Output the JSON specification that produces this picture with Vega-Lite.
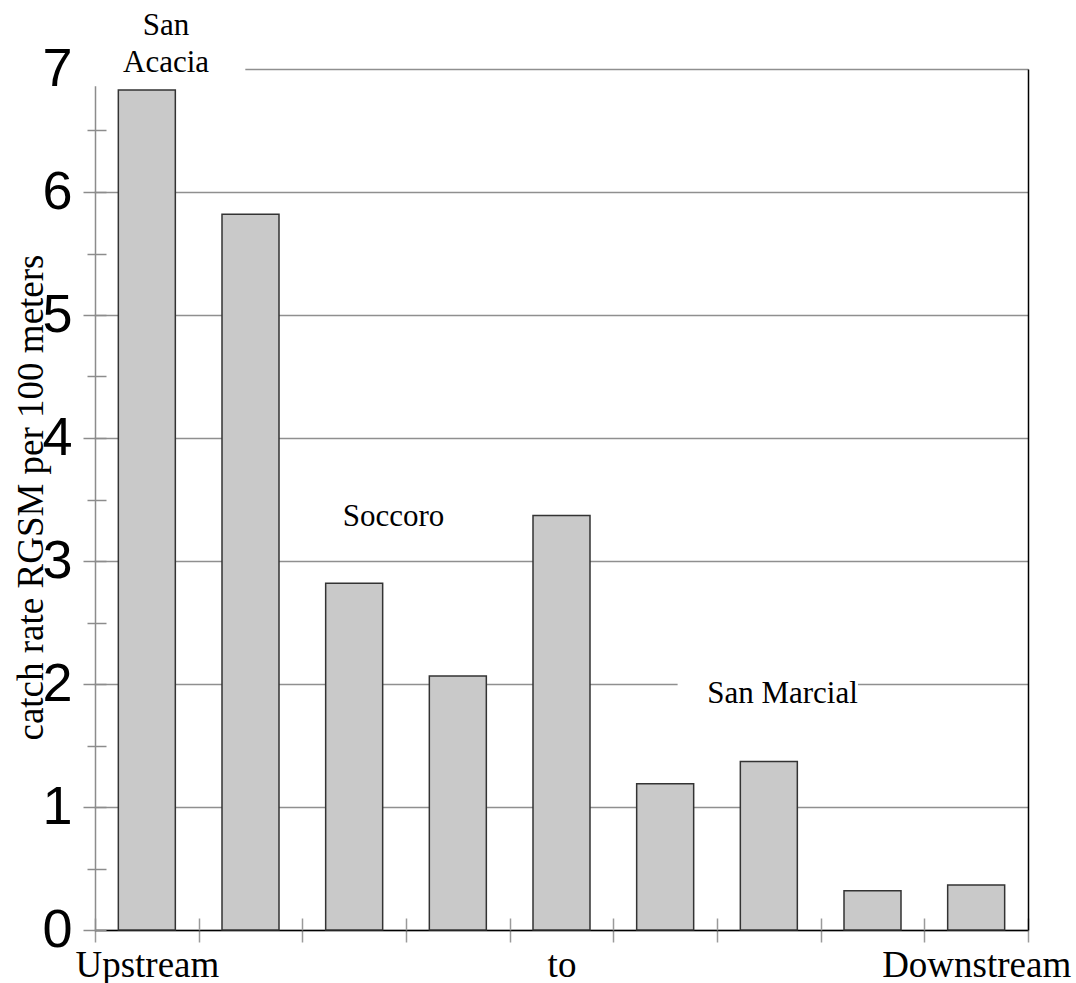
{
  "$schema": "https://vega.github.io/schema/vega-lite/v6.json",
  "width": 933,
  "height": 861,
  "autosize": "none",
  "padding": {"left": 95, "top": 69, "right": 48, "bottom": 53},
  "background": "white",
  "config": {
    "view": {"stroke": null},
    "axis": {"titleFontWeight": "normal", "labelFontWeight": "normal"}
  },
  "datasets": {
    "catch": [
      {"site": 1, "rate": 6.83},
      {"site": 2, "rate": 5.82},
      {"site": 3, "rate": 2.82},
      {"site": 4, "rate": 2.065},
      {"site": 5, "rate": 3.37},
      {"site": 6, "rate": 1.19},
      {"site": 7, "rate": 1.37},
      {"site": 8, "rate": 0.32},
      {"site": 9, "rate": 0.365}
    ],
    "masks": [
      {"x": 0.38, "x2": 1.95, "y": 6.86, "y2": 7.45},
      {"x": 6.12, "x2": 7.86, "y": 1.9, "y2": 2.1}
    ],
    "notes": [
      {"site": 1.185, "rate": 7.276, "label": ["San", "Acacia"]},
      {"site": 3.379, "rate": 3.285, "label": "Soccoro"},
      {"site": 7.132, "rate": 1.846, "label": "San Marcial"}
    ]
  },
  "layer": [
    {
      "data": {"name": "catch"},
      "mark": {"type": "bar", "width": 57, "fill": "#c9c9c9", "stroke": "#333333", "strokeWidth": 1.5},
      "encoding": {
        "x": {
          "field": "site",
          "type": "quantitative",
          "scale": {"domain": [0.5, 9.5], "nice": false, "zero": false, "padding": 0},
          "axis": {
            "orient": "bottom",
            "values": [0.5, 1.5, 2.5, 3.5, 4.5, 5.5, 6.5, 7.5, 8.5, 9.5],
            "labels": false,
            "ticks": true,
            "tickSize": 12,
            "tickColor": "#9a9a9a",
            "tickWidth": 1.5,
            "domain": true,
            "domainColor": "#000000",
            "domainWidth": 1.5,
            "grid": false,
            "title": null
          }
        },
        "y": {
          "field": "rate",
          "type": "quantitative",
          "scale": {"domain": [0, 7], "nice": false, "padding": 0},
          "axis": {
            "orient": "left",
            "values": [0, 0.5, 1, 1.5, 2, 2.5, 3, 3.5, 4, 4.5, 5, 5.5, 6, 6.5, 7],
            "tickSize": {"condition": {"test": "datum.value % 1 === 0", "value": 12}, "value": 8},
            "tickColor": "#8c8c8c",
            "tickWidth": 1.5,
            "domain": true,
            "domainColor": "#8c8c8c",
            "domainWidth": 1.5,
            "grid": true,
            "gridColor": "#8f8f8f",
            "gridWidth": 1.3,
            "gridOpacity": {"condition": {"test": "datum.value % 1 !== 0", "value": 0}, "value": 1},
            "labelExpr": "datum.value % 1 === 0 ? format(datum.value, 'd') : ''",
            "labelFont": "Liberation Sans",
            "labelFontSize": 54,
            "labelColor": "#000000",
            "labelPadding": 11,
            "labelBaseline": "middle",
            "labelLimit": 0,
            "title": "catch rate RGSM per 100 meters",
            "titleFont": "Liberation Serif",
            "titleFontSize": 37,
            "titleColor": "#000000",
            "titleAngle": 270,
            "titleBaseline": "alphabetic",
            "titleAlign": "center",
            "titleX": -53,
            "titleY": 428
          }
        }
      }
    },
    {
      "data": {"name": "masks"},
      "mark": {"type": "rect", "fill": "#ffffff", "stroke": null},
      "encoding": {
        "x": {
          "field": "x",
          "type": "quantitative",
          "axis": {
            "orient": "bottom",
            "offset": -12,
            "values": [0.5, 1.5, 2.5, 3.5, 4.5, 5.5, 6.5, 7.5, 8.5, 9.5],
            "labels": false,
            "ticks": true,
            "tickSize": 12,
            "tickColor": "#9a9a9a",
            "tickWidth": 1.5,
            "domain": false,
            "grid": false,
            "title": null
          }
        },
        "x2": {"field": "x2"},
        "y": {
          "field": "y",
          "type": "quantitative",
          "axis": {
            "orient": "left",
            "offset": -11,
            "values": [0, 0.5, 1, 1.5, 2, 2.5, 3, 3.5, 4, 4.5, 5, 5.5, 6, 6.5, 7],
            "tickSize": {"condition": {"test": "datum.value % 1 === 0", "value": 12}, "value": 11},
            "tickColor": "#8c8c8c",
            "tickWidth": 1.5,
            "domain": false,
            "grid": false,
            "labels": false,
            "title": null
          }
        },
        "y2": {"field": "y2"}
      }
    },
    {
      "data": {"name": "notes"},
      "mark": {
        "type": "text",
        "font": "Liberation Serif",
        "fontSize": 31,
        "align": "center",
        "baseline": "alphabetic",
        "lineHeight": 37,
        "color": "#000000"
      },
      "encoding": {
        "x": {
          "field": "site",
          "type": "quantitative",
          "axis": {
            "orient": "bottom",
            "values": [1, 5, 9],
            "labelExpr": "datum.value === 1 ? 'Upstream' : datum.value === 5 ? 'to' : 'Downstream'",
            "labelFont": "Liberation Serif",
            "labelFontSize": 37,
            "labelColor": "#000000",
            "labelBaseline": "alphabetic",
            "labelPadding": 46,
            "labelFlush": false,
            "labelOverlap": false,
            "labelLimit": 0,
            "ticks": false,
            "domain": false,
            "grid": false,
            "title": null
          }
        },
        "y": {
          "field": "rate",
          "type": "quantitative",
          "axis": {
            "orient": "right",
            "domain": true,
            "domainColor": "#000000",
            "domainWidth": 1.5,
            "ticks": false,
            "labels": false,
            "grid": false,
            "title": null
          }
        },
        "text": {"field": "label"}
      }
    }
  ],
  "resolve": {"axis": {"x": "independent", "y": "independent"}}
}
